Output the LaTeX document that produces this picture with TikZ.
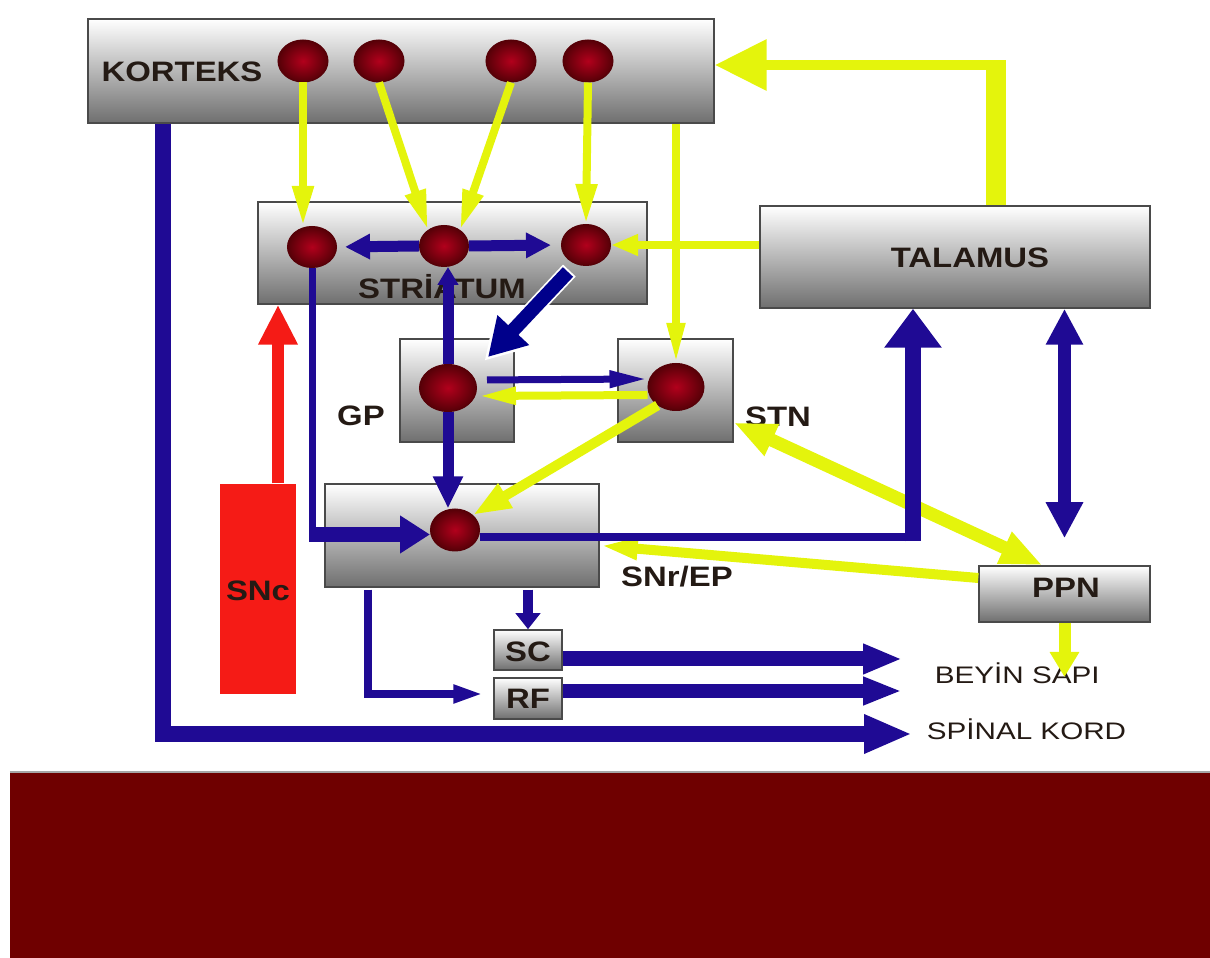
\documentclass[tikz,border=0pt]{standalone}
\usepackage{fontspec}
\newfontfamily\arialfont{Liberation Sans}
\usepackage{xcolor}
\usetikzlibrary{arrows.meta,positioning,calc,shapes.geometric}
\definecolor{yel}{HTML}{E4F40C}
\definecolor{blu}{HTML}{1F0A94}
\definecolor{nvy}{HTML}{00008B}
\definecolor{snred}{HTML}{F51B16}
\definecolor{band}{HTML}{6F0000}
\definecolor{boxgray}{HTML}{6F6F6F}
\definecolor{boxline}{HTML}{4A4A4A}
\definecolor{nrnin}{HTML}{B2001C}
\definecolor{nrnout}{HTML}{560007}
\definecolor{labtext}{HTML}{241A14}

\begin{document}
\begin{tikzpicture}[x=0.1mm,y=-0.1mm,
  box/.style 2 args={draw=boxline, line width=0.15mm, top color=white, bottom color=boxgray,
    inner sep=0, minimum width=#1*0.1mm, minimum height=#2*0.1mm},
  neuron/.style 2 args={ellipse, inner sep=0, minimum width=#1*0.1mm, minimum height=#2*0.1mm,
    inner color=nrnin, outer color=nrnout, draw=nrnout, line width=0.1mm},
  lbl/.style={font=\arialfont\bfseries\fontsize{8}{9}\selectfont, text=labtext, inner sep=0,
    xscale=1.17, anchor=base},
  outtxt/.style={font=\arialfont\fontsize{6.8}{8}\selectfont, text=labtext, inner sep=0,
    xscale=1.24, anchor=base west},
  ya/.style={draw=yel, line width=0.8mm},
  ba/.style={draw=blu},
  hd/.style 2 args={>={Triangle[length=#1mm,width=#2mm]}, ->},
  dhd/.style 2 args={>={Triangle[length=#1mm,width=#2mm]}, <->}]

  \useasboundingbox (0,0) rectangle (1210,958);

  % boxes
  \node[box={626}{104}] (kor) at (401,71) {};
  \node[box={389}{102}] (str) at (452.5,253) {};
  \node[box={390}{102}] (tal) at (955,257) {};
  \node[box={114}{103}] (gp) at (457,390.5) {};
  \node[box={115}{103}] (stn) at (675.5,390.5) {};
  \node[box={274}{103}] (snr) at (462,535.5) {};
  \node[box={171}{56}] (ppn) at (1064.5,594) {};
  \node[box={68}{40}] (sc) at (528,650) {};
  \node[box={68}{41}] (rf) at (528,698.5) {};
  \node[fill=snred, inner sep=0, minimum width=7.6mm, minimum height=21mm] (snc) at (258,589) {};

  % labels
  \node[lbl] (korl) at (182,82) {KORTEKS};
  \node[lbl] (strl) at (442,299) {STRİATUM};
  \node[lbl] (tall) at (970,268) {TALAMUS};
  \node[lbl] (gpl) at (361,426) {GP};
  \node[lbl] (stnl) at (778,427) {STN};
  \node[lbl] (snrl) at (677,587) {SNr/EP};
  \node[lbl] (ppnl) at (1066,598) {PPN};
  \node[lbl] (scl) at (528,662) {SC};
  \node[lbl] (rfl) at (528,709) {RF};
  \node[lbl] (sncl) at (258,601) {SNc};
  \node[outtxt] (beyin) at (934,684) {BEYİN SAPI};
  \node[outtxt] (spinal) at (926,740) {SPİNAL KORD};

  % neurons
  \foreach \x [count=\i] in {303,379,511,588}
    \node[neuron={50}{42}] (c\i) at (\x,61) {};
  \node[neuron={49}{41}] (s1) at (312,247) {};
  \node[neuron={49}{41}] (s2) at (444,246) {};
  \node[neuron={49}{41}] (s3) at (586,245) {};
  \node[neuron={57}{47}] (g1) at (448,388) {};
  \node[neuron={56}{47}] (t1) at (676,387) {};
  \node[neuron={49}{42}] (n1) at (455,530) {};

  % yellow pathways
  \draw[ya, hd={4}{2}] (c1.south) -- (c1.south |- s1.north);
  \draw[ya, hd={4}{2}] (c2.south) -- (s2.135);
  \draw[ya, hd={4}{2}] (c3.south) -- (s2.45);
  \draw[ya, hd={4}{2}] (c4.south) -- (s3.north);
  \draw[ya, line width=0.75mm, hd={4}{1.7}] (t1 |- kor.south) -- (t1.north);
  \draw[ya, hd={2.7}{2}] (tal.west |- s3.east) -- (s3.east);
  \coordinate (tk) at (996,65);
  \draw[ya, line width=2mm] (tal.north -| tk) -- ([yshift=0.4mm]tk);
  \draw[ya, line width=1mm, hd={5.2}{4.9}] ([xshift=1mm]tk) -- (tk -| kor.east);
  \draw[ya, hd={3.9}{1.6}] ([yshift=-0.8mm]t1.west) -- ([yshift=-0.8mm]g1.east);
  \draw[ya, line width=1mm, hd={3.8}{2.6}] (t1.225) -- (n1.40);
  \draw[ya, line width=1.3mm, dhd={4.2}{3.2}] ([xshift=-2.2mm]ppn.north) -- ([yshift=-3.2mm]stn.east);
  \draw[ya, line width=1mm, hd={3.8}{2}] ([yshift=1.6mm]ppn.west) -- ([yshift=-1mm]snr.east);
  \coordinate (bs) at (1062,677);
  \draw[ya, line width=1.2mm, hd={2.5}{2.8}] (ppn.south) -- (ppn.south |- bs);

  % blue pathways
  \coordinate (kl) at (163,734);
  \coordinate (sp) at (912,734);
  \draw[ba, line width=1.55mm, hd={4.8}{3.6}] (kl |- kor.south) -- (kl) -- (sp);
  \draw[ba, line width=1.1mm, hd={2.5}{2.4}, shorten >=0.8mm] (s2.west) -- (s1.east);
  \draw[ba, line width=1.1mm, hd={2.5}{2.4}, shorten >=1mm] (s2.east) -- (s3.west);
  \draw[ba, line width=1.1mm, hd={1.8}{2}] (g1.north) -- (g1.north |- s2.south);
  \draw[ba, line width=1.1mm, hd={3.2}{2.8}] (g1.south) -- (g1.south |- n1.north);
  \draw[ba, line width=0.7mm, hd={3.8}{1.6}, shorten <=1mm] ([yshift=0.8mm]g1.east) -- ([yshift=0.8mm]t1.west);
  \coordinate (sb) at (312,534.5);
  \draw[ba, line width=0.7mm] (s1.south) -- ([yshift=-0.75mm]sb);
  \draw[ba, line width=1.45mm, hd={3}{3.6}] (sb) -- (sb -| n1.west);
  \coordinate (tb) at (913,537);
  \draw[ba, line width=0.85mm] (n1.east |- tb) -- (tb);
  \draw[ba, line width=1.6mm, hd={3.9}{5.5}] ([yshift=-0.45mm]tb) -- (tb |- tal.south);
  \draw[ba, line width=1.35mm, dhd={3.6}{3.5}, shorten >=2.7mm] (tal.south -| ppn.north) -- (ppn.north);
  \draw[ba, line width=1mm, hd={1.6}{2.4}, shorten <=0.2mm] (sc.north |- snr.south) -- (sc.north);
  \coordinate (rb) at (368,694);
  \draw[ba, line width=0.75mm, hd={3}{1.7}, shorten >=1mm, shorten <=0.2mm] (rb |- snr.south) -- (rb) -- (rb -| rf.west);
  \coordinate (bs1) at (902,659);
  \coordinate (bs2) at (902,691);
  \draw[ba, line width=1.5mm, hd={3.9}{2.8}] (sc.east |- bs1) -- (bs1);
  \draw[ba, line width=1.45mm, hd={3.9}{2.6}] (rf.east |- bs2) -- (bs2);

  % navy arrow into GP
  \coordinate (nv1) at (568,272);
  \coordinate (nv2) at (488,357);
  \draw[draw=white, line width=1.75mm, hd={4.3}{4.8}, shorten >=-0.5mm, shorten <=-0.2mm] (nv1) -- (nv2);
  \draw[draw=nvy, line width=1.4mm, hd={3.7}{4.1}] (nv1) -- (nv2);

  % SNc to striatum
  \coordinate (sna) at ($(snc.north)+(20,0)$);
  \draw[draw=snred, line width=1.2mm, hd={4}{3.7}] (sna) -- (sna |- str.south);

  % bottom band
  \fill[band] (10,773) rectangle (1210,958);
  \draw[draw=gray!70, line width=0.2mm] (10,772.5) -- (1210,772.5);
\end{tikzpicture}
\end{document}
